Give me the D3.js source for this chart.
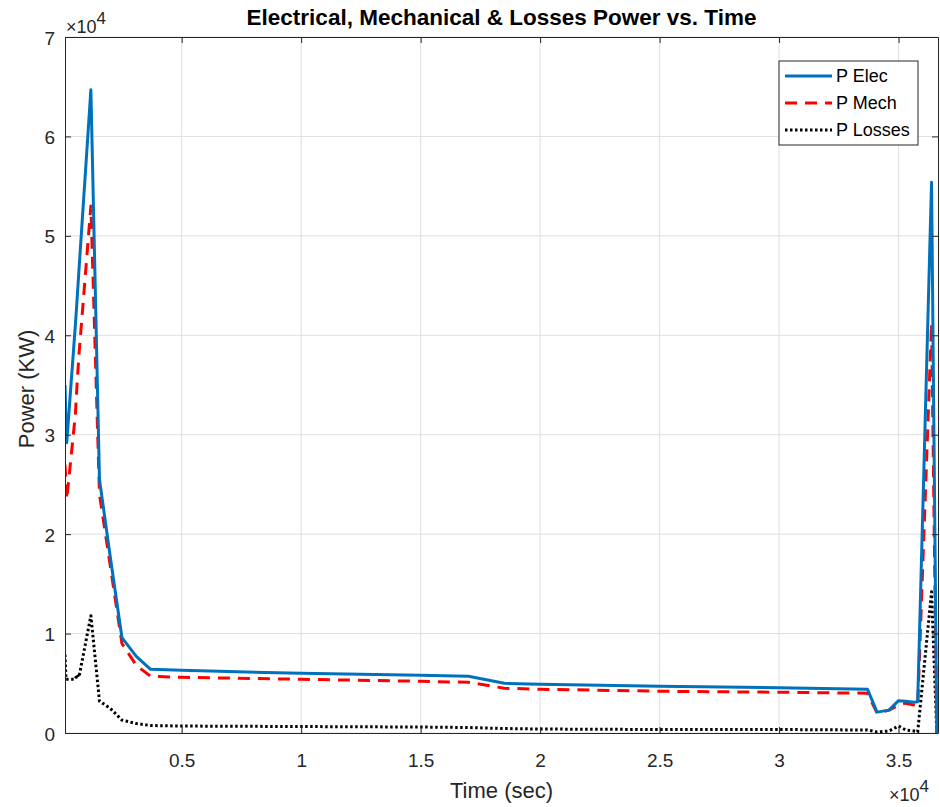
<!DOCTYPE html>
<html>
<head>
<meta charset="utf-8">
<script src="https://cdn.jsdelivr.net/npm/d3@7"></script>
<style>
  body { margin: 0; background: #fff; }
  text { font-family: "Liberation Sans", Arial, sans-serif; fill: #262626; }
</style>
</head>
<body>
<div id="chart"></div>
<script>
// time in seconds, power in kW
const time = [117, 160, 190, 550, 620, 700, 1200, 1560, 2000, 2500, 3100, 3700, 5000, 10000, 15000, 17000, 18500, 20000, 25000, 30000, 33700, 34100, 34600, 35000, 35300, 35650, 35800, 36380, 36600];
const pElec = [35000, 31000, 29200, 41000, 43500, 46500, 64700, 25500, 17900, 9600, 7700, 6400, 6300, 6000, 5800, 5700, 5000, 4900, 4700, 4550, 4400, 2100, 2300, 3250, 3200, 3100, 3150, 55400, 0];
const pMech = [27000, 25000, 23500, 32000, 35000, 38000, 53000, 24000, 17000, 9000, 6800, 5700, 5600, 5400, 5200, 5100, 4500, 4400, 4200, 4100, 4000, 2000, 2300, 2800, 3000, 2800, 2700, 41200, 0];
const pLosses = [7900, 5400, 5400, 5400, 5900, 5600, 11800, 3200, 2500, 1300, 950, 750, 700, 650, 600, 550, 450, 400, 350, 350, 300, 100, 200, 700, 300, 200, 100, 14200, 0];

const xTicks = [5000, 10000, 15000, 20000, 25000, 30000, 35000];
const yTicks = [0, 10000, 20000, 30000, 40000, 50000, 60000, 70000];
const seriesNames = ["P Elec", "P Mech", "P Losses"];

const width = 940, height = 807;
const margin = { top: 37, right: 2, bottom: 74, left: 65 };
const innerWidth = width - margin.left - margin.right;
const innerHeight = height - margin.top - margin.bottom;

const svg = d3.select("#chart")
  .append("svg")
    .attr("width", width)
    .attr("height", height);

const innerChart = svg
  .append("g")
    .attr("transform", `translate(${margin.left}, ${margin.top})`);

const xScale = d3.scaleLinear()
  .domain([117, 36650])
  .range([0, innerWidth]);

const yScale = d3.scaleLinear()
  .domain([0, 70000])
  .range([innerHeight, 0]);

// grid
innerChart.append("g")
  .selectAll("line.vgrid")
  .data(xTicks)
  .join("line")
    .attr("x1", d => xScale(d)).attr("x2", d => xScale(d))
    .attr("y1", 0).attr("y2", innerHeight)
    .attr("stroke", "#dfdfdf");

innerChart.append("g")
  .selectAll("line.hgrid")
  .data(yTicks)
  .join("line")
    .attr("x1", 0).attr("x2", innerWidth)
    .attr("y1", d => yScale(d)).attr("y2", d => yScale(d))
    .attr("stroke", "#dfdfdf");

// lines
svg.append("defs").append("clipPath").attr("id", "clip")
  .append("rect").attr("width", innerWidth).attr("height", innerHeight);

const series = [
  { name: seriesNames[0], values: pElec, color: "#0072BD", dash: null },
  { name: seriesNames[1], values: pMech, color: "#FF0000", dash: "12,8" },
  { name: seriesNames[2], values: pLosses, color: "#000000", dash: "2.5,2.5" }
];

const lineGen = d3.line()
  .x((d, i) => xScale(time[i]))
  .y(d => yScale(d));

const plot = innerChart.append("g").attr("clip-path", "url(#clip)");
series.slice().reverse().forEach(s => {
  plot.append("path")
    .datum(s.values)
    .attr("fill", "none")
    .attr("stroke", s.color)
    .attr("stroke-width", 3)
    .attr("stroke-linejoin", "round")
    .attr("stroke-dasharray", s.dash)
    .attr("d", lineGen);
});

// axes
const fmtX = d => d3.format("~g")(d / 10000);
const bottomAxis = d3.axisBottom(xScale).tickValues(xTicks).tickFormat(fmtX).tickSizeInner(-6).tickSizeOuter(0).tickPadding(20);
const topAxis = d3.axisTop(xScale).tickValues(xTicks).tickSizeInner(-6).tickSizeOuter(0);
const leftAxis = d3.axisLeft(yScale).tickValues(yTicks).tickFormat(d => d / 10000).tickSizeInner(-6).tickSizeOuter(0).tickPadding(10);
const rightAxis = d3.axisRight(yScale).tickValues(yTicks).tickSizeInner(-6).tickSizeOuter(0);

const styleAxis = g => {
  g.attr("font-size", 19).attr("font-family", null);
  g.selectAll("path.domain").attr("stroke", "#262626");
  g.selectAll(".tick line").attr("stroke", "#262626");
  g.selectAll("text").attr("fill", "#262626");
};
const dropLabels = g => g.selectAll(".tick text").remove();

innerChart.append("g").attr("transform", `translate(0, ${innerHeight})`).call(bottomAxis).call(styleAxis)
  .selectAll(".tick text").attr("dy", null).attr("y", 34);
innerChart.append("g").call(topAxis).call(styleAxis).call(dropLabels);
innerChart.append("g").call(leftAxis).call(styleAxis)
  .selectAll(".tick text").attr("dy", null).attr("y", 7);
innerChart.append("g").attr("transform", `translate(${innerWidth}, 0)`).call(rightAxis).call(styleAxis).call(dropLabels);

// exponent labels
const expTop = svg.append("text").attr("x", 66).attr("y", 33).attr("font-size", 18);
expTop.append("tspan").text("\u00d710");
expTop.append("tspan").attr("dy", -9).attr("font-size", 17).text("4");

const expBot = svg.append("text").attr("x", 889).attr("y", 801).attr("font-size", 18);
expBot.append("tspan").text("\u00d710");
expBot.append("tspan").attr("dy", -9).attr("font-size", 17).text("4");

// title and labels
svg.append("text")
  .attr("x", margin.left + innerWidth / 2).attr("y", 25)
  .attr("text-anchor", "middle")
  .attr("font-size", 22.5).attr("font-weight", "bold")
  .style("fill", "#000")
  .text("Electrical, Mechanical & Losses Power vs. Time");

svg.append("text")
  .attr("x", margin.left + innerWidth / 2).attr("y", 798)
  .attr("text-anchor", "middle")
  .attr("font-size", 22)
  .text("Time (sec)");

svg.append("text")
  .attr("transform", `translate(34, ${margin.top + innerHeight / 2 + 4}) rotate(-90)`)
  .attr("text-anchor", "middle")
  .attr("font-size", 22)
  .text("Power (KW)");

// legend
const legend = svg.append("g").attr("transform", "translate(779, 61)");
legend.append("rect")
  .attr("width", 139).attr("height", 84)
  .attr("fill", "#fff").attr("stroke", "#262626");

series.forEach((s, i) => {
  const y = 15 + i * 27;
  legend.append("line")
    .attr("x1", 6).attr("x2", 53).attr("y1", y).attr("y2", y)
    .attr("stroke", s.color).attr("stroke-width", 3)
    .attr("stroke-dasharray", s.dash);
  legend.append("text")
    .attr("x", 57).attr("y", y + 6)
    .attr("font-size", 18)
    .style("fill", "#000")
    .text(s.name);
});
</script>
</body>
</html>
